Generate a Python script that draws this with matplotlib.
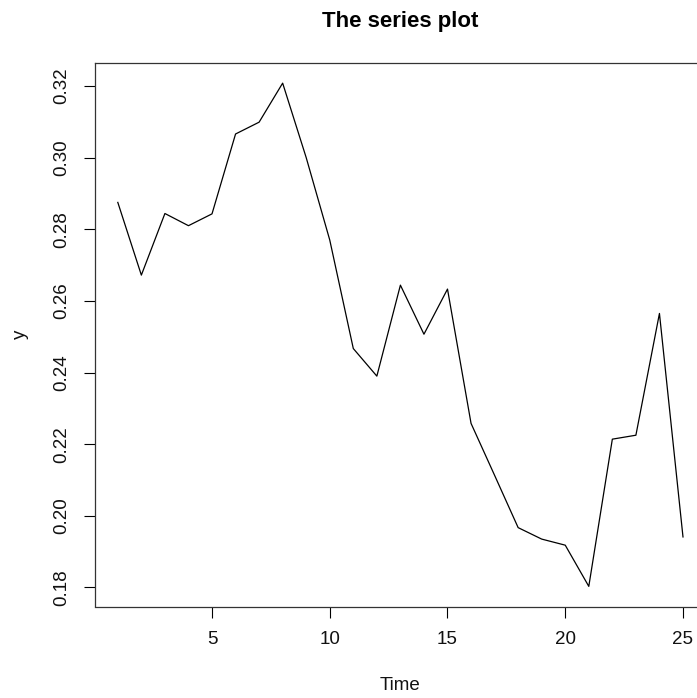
import matplotlib
matplotlib.use("Agg")
import matplotlib.pyplot as plt

time = list(range(1, 26))
y = [0.2875, 0.2672, 0.2844, 0.2810, 0.2843, 0.3066, 0.3099, 0.3208, 0.3000, 0.2770,
     0.2467, 0.2390, 0.2644, 0.2507, 0.2633, 0.2258, 0.2113, 0.1967, 0.1935, 0.1918,
     0.1803, 0.2214, 0.2225, 0.2565, 0.1941]
xticks = [5, 10, 15, 20, 25]
yticks = [0.18, 0.20, 0.22, 0.24, 0.26, 0.28, 0.30, 0.32]
yticklabels = ["0.18", "0.20", "0.22", "0.24", "0.26", "0.28", "0.30", "0.32"]

plt.rcParams['font.family'] = ['Liberation Sans', 'DejaVu Sans']

W, H = 697, 698
fig = plt.figure(figsize=(W / 100, H / 100), dpi=100)
left, right, top, bottom = 95.2, 705.6, 63.0, 606.5
ax = fig.add_axes([left / W, 1 - bottom / H, (right - left) / W, (bottom - top) / H])

ax.plot(time, y, color='black', lw=0.9)

ymin, ymax = min(y), max(y)
yr = ymax - ymin
ax.set_ylim(ymin - 0.04 * yr, ymax + 0.04 * yr)
ax.set_xlim(1 - 0.04 * 24, 25 + 0.04 * 24)

ax.set_xticks(xticks)
ax.set_xticklabels([str(v) for v in xticks])
ax.set_yticks(yticks)
ax.set_yticklabels(yticklabels, rotation=90, va='center')

ax.tick_params(axis='both', direction='out', length=7.7, width=0.8, color='black',
               labelsize=13.5, pad=10, labelcolor='#111111')
for s in ax.spines.values():
    s.set_color('#333333')
    s.set_linewidth(0.9)

fig.text(400.5 / W, 1 - 27 / H, "The series plot", ha='center', va='baseline',
         fontsize=16, fontweight='bold')
fig.text(400 / W, 1 - 686 / H, "Time", ha='center', va='center', fontsize=13.5, color='#111111')
fig.text(20 / W, 1 - 334.5 / H, "y", ha='center', va='center', rotation=90, fontsize=13.5,
         color='#111111')

fig.savefig("out.png", dpi=100)
